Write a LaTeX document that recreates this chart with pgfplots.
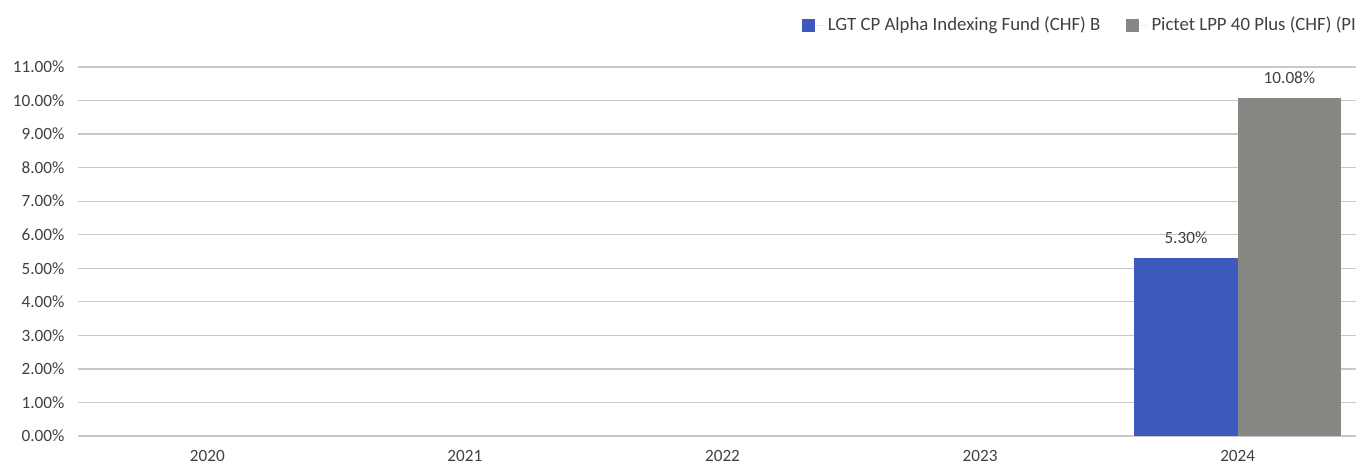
\documentclass[border=0pt]{standalone}
\usepackage{fontspec}
\setmainfont{Carlito}
\usepackage{pgfplots}
\pgfplotsset{compat=1.18}
\definecolor{fundblue}{HTML}{3D59BE}
\definecolor{fundgray}{HTML}{878883}
\definecolor{txt}{HTML}{404040}
\definecolor{gridc}{HTML}{C8C8C8}
\newcommand{\chartfont}{\fontsize{8.6}{10.5}\selectfont}
\newcommand{\legfont}{\fontsize{9.4}{11}\selectfont}
\begin{document}
\chartfont
\begin{tikzpicture}
\clip (-39.25pt,-16pt) rectangle (638.75pt,218pt);
\begin{axis}[
    scale only axis,
    width=644pt, height=184.5pt,
    at={(0pt,0pt)}, anchor=south west,
    xmin=-0.5, xmax=4.5,
    ymin=0, ymax=11,
    ytick distance=1,
    xtick={0,1,2,3,4},
    xticklabels={2020,2021,2022,2023,2024},
    axis line style={draw=none},
    major tick length=0pt,
    ymajorgrids,
    grid style={gridc, line width=0.6pt},
    tick label style={text=txt, font=\chartfont},
    /pgf/number format/assume math mode=true,
    yticklabel={\pgfmathprintnumber[fixed,fixed zerofill,precision=2]{\tick}\%},
    yticklabel style={xshift=-4pt},
    xticklabel style={yshift=-4pt},
    ybar=0pt,
    bar width=51.8pt,
    nodes near coords={\pgfmathprintnumber[fixed,fixed zerofill,precision=2]{\pgfplotspointmeta}\%},
    every node near coord/.append style={text=txt, font=\chartfont, yshift=4pt},
    legend columns=2,
    legend style={draw=none, fill=none, at={(358.5pt,205.5pt)}, anchor=west,
        font=\legfont, text=txt,
        /tikz/every even column/.append style={column sep=10.5pt}},
    legend image code/.code={\fill[#1] (0pt,-3.25pt) rectangle (6.5pt,3.25pt); \path (0pt,0pt) -- (11pt,0pt);},
    clip=false,
]
\addplot[fill=fundblue, draw=none] coordinates {(4,5.30)};
\addplot[fill=fundgray, draw=none] coordinates {(4,10.08)};
\legend{LGT CP Alpha Indexing Fund (CHF) B, Pictet LPP 40 Plus (CHF) (PI)}
\end{axis}
\end{tikzpicture}
\end{document}
